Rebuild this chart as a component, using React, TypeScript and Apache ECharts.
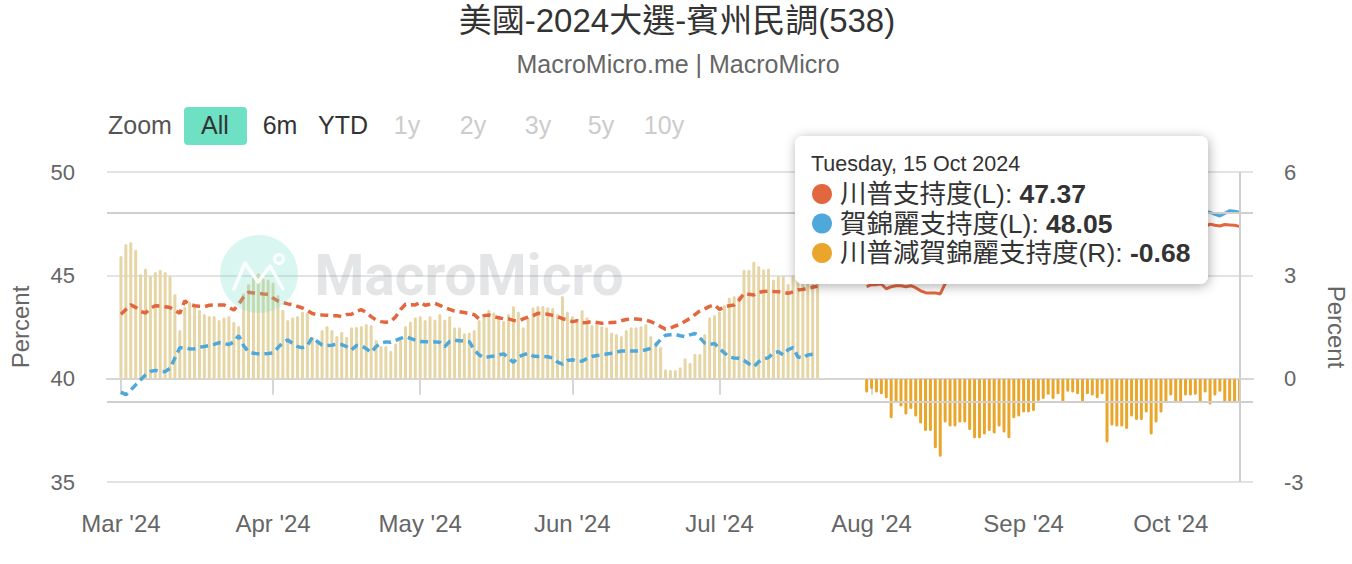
import React, { useEffect, useRef } from "react";
import * as echarts from "echarts";

const FONT = "'Liberation Sans', 'Noto Sans CJK TC', sans-serif";
const TITLE = "美國-2024大選-賓州民調(538)";
const SUBTITLE = "MacroMicro.me | MacroMicro";
const SERIES_NAMES = ["川普支持度(L)", "賀錦麗支持度(L)", "川普減賀錦麗支持度(R)"];
const TOOLTIP_DATE = "Tuesday, 15 Oct 2024";
const AXIS_NAME = "Percent";
const MONTHS = ["Jan", "Feb", "Mar", "Apr", "May", "Jun", "Jul", "Aug", "Sep", "Oct", "Nov", "Dec"];
const RANGE_LABEL = "Zoom";
const RANGE_BUTTONS = ["All", "6m", "YTD", "1y", "2y", "3y", "5y", "10y"];
const RANGE_ENABLED = [true, true, true, false, false, false, false, false];
const WATERMARK = "MacroMicro";

// Period 1: 1 Mar 2024 – 21 Jul 2024 (daily), Trump vs Biden
const P1_START = [2024, 2, 1];
const trumpP1 = [
  43.12, 43.35, 43.57, 43.45, 43.25, 43.18, 43.40, 43.53, 43.52, 43.48,
  43.44, 43.30, 43.16, 43.76, 43.60, 43.53, 43.50, 43.48, 43.55, 43.57,
  43.57, 43.57, 43.45, 43.32, 43.60, 43.95, 44.18, 44.15, 44.13, 44.10,
  44.08, 43.90, 43.76, 43.68, 43.62, 43.58, 43.50, 43.42, 43.30, 43.15,
  43.10, 43.08, 43.07, 43.05, 43.05, 43.00, 43.10, 43.12, 43.25, 43.34,
  43.20, 43.00, 42.84, 42.76, 42.73, 42.76, 43.00, 43.35, 43.60, 43.58,
  43.57, 43.70, 43.55, 43.60, 43.65, 43.55, 43.44, 43.35, 43.27, 43.24,
  43.20, 43.15, 43.10, 42.89, 43.05, 43.08, 43.00, 42.95, 42.90, 42.89,
  42.82, 42.79, 42.89, 42.98, 43.05, 43.16, 43.14, 43.12, 43.06, 43.00,
  42.90, 42.84, 42.76, 42.80, 42.70, 42.72, 42.76, 42.72, 42.68, 42.70,
  42.72, 42.73, 42.80, 42.86, 42.88, 42.89, 42.86, 42.84, 42.76, 42.65,
  42.52, 42.40, 42.45, 42.55, 42.63, 42.78, 42.92, 43.10, 43.28, 43.38,
  43.50, 43.58, 43.35, 43.48, 43.53, 43.56, 43.80, 44.13, 44.08, 44.05,
  44.18, 44.22, 44.24, 44.22, 44.21, 44.18, 44.13, 44.20, 44.29, 44.32,
  44.38, 44.42, 44.48,
];
const bidenP1 = [
  39.35, 39.22, 39.45, 39.70, 39.95, 40.18, 40.35, 40.40, 40.36, 40.34,
  40.50, 41.00, 41.50, 41.50, 41.44, 41.45, 41.52, 41.56, 41.60, 41.66,
  41.74, 41.70, 41.65, 41.78, 42.08, 41.60, 41.30, 41.23, 41.20, 41.20,
  41.22, 41.25, 41.50, 41.75, 41.87, 41.70, 41.55, 41.50, 41.60, 42.00,
  41.80, 41.63, 41.60, 41.62, 41.68, 41.65, 41.55, 41.39, 41.60, 41.60,
  41.45, 41.27, 41.55, 41.72, 41.78, 41.76, 41.85, 41.95, 42.03, 41.95,
  41.86, 41.80, 41.79, 41.79, 41.78, 41.76, 41.55, 41.80, 41.86, 41.84,
  41.82, 41.79, 41.40, 41.15, 41.02, 41.06, 41.10, 41.15, 41.20, 41.00,
  40.79, 41.05, 41.15, 41.23, 41.10, 41.07, 41.07, 41.06, 41.00, 40.80,
  40.70, 40.88, 40.92, 40.84, 40.85, 40.98, 41.07, 41.12, 41.15, 41.19,
  41.23, 41.28, 41.34, 41.34, 41.34, 41.34, 41.34, 41.40, 41.47, 41.62,
  41.90, 42.10, 42.12, 42.14, 42.08, 42.03, 42.12, 42.19, 41.98, 41.72,
  41.66, 41.70, 41.45, 41.25, 41.05, 41.00, 40.99, 40.88, 40.72, 40.58,
  40.82, 40.95, 41.02, 41.25, 41.30, 41.15, 41.40, 41.50, 41.05, 41.00,
  41.15, 41.18, 41.20,
];
const diffP1 = [
  3.56, 3.91, 3.97, 3.74, 3.04, 3.20, 2.98, 3.10, 3.16, 3.10,
  2.98, 2.46, 1.41, 2.09, 2.23, 2.11, 2.00, 1.88, 1.82, 1.82,
  1.70, 1.78, 1.82, 1.65, 1.53, 2.48, 2.75, 2.94, 3.06, 2.91,
  2.88, 2.79, 2.43, 2.00, 1.70, 1.78, 1.82, 1.95, 1.92, 1.22,
  1.05, 1.41, 1.53, 1.41, 1.24, 1.36, 1.22, 1.49, 1.51, 1.53,
  1.59, 1.56, 1.12, 0.95, 0.95, 0.81, 1.03, 1.12, 1.53, 1.66,
  1.78, 1.82, 1.70, 1.82, 1.72, 1.88, 1.72, 1.82, 1.49, 1.49,
  1.32, 1.34, 1.41, 1.70, 1.88, 2.00, 1.92, 1.78, 1.68, 1.88,
  2.11, 1.95, 1.49, 1.78, 2.07, 2.11, 2.11, 2.07, 2.05, 1.88,
  2.40, 1.95, 1.82, 1.75, 1.99, 1.78, 1.56, 1.59, 1.53, 1.49,
  1.34, 1.30, 1.24, 1.41, 1.49, 1.49, 1.53, 1.59, 1.24, 1.07,
  0.93, 0.27, 0.25, 0.25, 0.33, 0.59, 0.46, 0.72, 0.72, 1.30,
  1.78, 1.85, 1.95, 2.14, 2.36, 2.40, 2.40, 3.16, 3.16, 3.40,
  3.27, 3.18, 3.20, 2.88, 2.98, 2.98, 2.75, 3.00, 3.20, 3.30,
  3.20, 3.20, 3.25,
];

// Period 2: 31 Jul 2024 – 15 Oct 2024 (daily), Trump vs Harris
const P2_START = [2024, 6, 31];
const trumpP2 = [
  44.45, 44.55, 44.55, 44.58, 44.35, 44.45, 44.50, 44.50, 44.45, 44.50,
  44.40, 44.25, 44.16, 44.15, 44.15, 44.10, 44.60, 44.85, 44.92, 45.05,
  45.02, 45.14, 45.10, 45.22, 45.26, 45.31, 45.28, 45.42, 45.38, 45.51,
  45.49, 45.60, 45.63, 45.58, 45.70, 45.74, 45.81, 45.77, 45.90, 45.86,
  45.95, 46.02, 45.98, 46.10, 46.12, 46.20, 46.17, 46.31, 46.28, 46.35,
  46.40, 46.38, 46.47, 46.52, 46.49, 46.60, 46.63, 46.71, 46.68, 46.80,
  46.84, 46.90, 46.88, 46.98, 47.05, 47.02, 47.12, 47.18, 47.25, 47.35,
  47.48, 47.42, 47.39, 47.46, 47.44, 47.42, 47.37,
];
const harrisP2 = [
  44.85, 44.85, 44.95, 45.03, 44.92, 45.60, 45.17, 45.31, 45.49, 45.38,
  45.50, 45.55, 45.68, 45.67, 46.17, 46.37, 45.87, 46.24, 46.31, 46.32,
  46.29, 46.63, 46.83, 46.95, 46.88, 46.83, 46.87, 46.81, 46.94, 47.24,
  46.64, 46.70, 46.61, 46.56, 46.64, 46.39, 46.40, 46.24, 46.49, 46.31,
  46.64, 46.40, 46.38, 46.55, 46.81, 46.65, 46.66, 46.88, 46.73, 48.20,
  47.76, 47.77, 47.86, 47.98, 47.59, 47.80, 47.83, 47.69, 48.30, 48.07,
  47.82, 47.59, 47.37, 47.65, 47.74, 47.51, 47.61, 47.65, 47.94, 48.08,
  48.05, 47.95, 47.87, 48.00, 48.13, 48.10, 48.05,
];
const diffP2 = [
  -0.40, -0.30, -0.40, -0.45, -0.57, -1.15, -0.67, -0.81, -1.04, -0.88,
  -1.10, -1.30, -1.52, -1.52, -2.02, -2.27, -1.27, -1.39, -1.39, -1.27,
  -1.27, -1.49, -1.73, -1.73, -1.62, -1.52, -1.59, -1.39, -1.56, -1.73,
  -1.15, -1.10, -0.98, -0.98, -0.94, -0.65, -0.59, -0.47, -0.59, -0.45,
  -0.69, -0.38, -0.40, -0.45, -0.69, -0.45, -0.49, -0.57, -0.45, -1.85,
  -1.36, -1.39, -1.39, -1.46, -1.10, -1.20, -1.20, -0.98, -1.62, -1.27,
  -0.98, -0.69, -0.49, -0.67, -0.69, -0.49, -0.49, -0.47, -0.69, -0.40,
  -0.75, -0.49, -0.38, -0.69, -0.69, -0.69, -0.68,
];

const LEFT_MIN = 35, LEFT_MAX = 50, LEFT_INTERVAL = 5;
const RIGHT_MIN = -3, RIGHT_MAX = 6, RIGHT_INTERVAL = 3;

const C_TRUMP = "#E2673F";
const C_HARRIS = "#4EA8DA";
const C_DIFF = "#EAA62A";
const C_DIFF_OLD = "#E6D6A6";
const GRID_C = "#e3e3e3";
const DAY = 86400000;

function dailyDates(start: number[], n: number) {
  return Array.from({ length: n }, (_, i) => new Date(start[0], start[1], start[2] + i).getTime());
}

export default function App() {
  const ref = useRef<HTMLDivElement>(null);
  useEffect(() => {
    const chart = echarts.init(ref.current!, null, { renderer: "svg" });
    const d1 = dailyDates(P1_START, trumpP1.length);
    const d2 = dailyDates(P2_START, trumpP2.length);
    const lastDate = d2[d2.length - 1];
    const xMin = d1[0] - 2.54 * DAY;
    const xMax = lastDate + 2.45 * DAY;
    const pair = (dates: number[], vals: number[]) => dates.map((t, i) => [t, vals[i]]);
    const barData = [
      ...d1.map((t, i) => ({ value: [t, diffP1[i]], itemStyle: { color: C_DIFF_OLD } })),
      ...d2.map((t, i) => ({ value: [t, diffP2[i]], itemStyle: { color: C_DIFF } })),
    ];
    const lastT = trumpP2[trumpP2.length - 1];
    const lastH = harrisP2[harrisP2.length - 1];
    const lastD = diffP2[diffP2.length - 1];
    const crossStyle = { color: "#cfcfcf", width: 2, type: "solid" as const };
    const dash = [8, 5];

    const buttonX = [215, 280, 343, 407, 473, 538, 601, 664];
    const graphic: any[] = [
      { type: "text", x: 677, y: 20, style: { text: TITLE, fontSize: 33, fontFamily: FONT, fill: "#333", align: "center", verticalAlign: "middle" } },
      { type: "text", x: 678, y: 64, style: { text: SUBTITLE, fontSize: 25, fontFamily: FONT, fill: "#666", align: "center", verticalAlign: "middle" } },
      { type: "text", x: 108, y: 125, style: { text: RANGE_LABEL, fontSize: 25, fontFamily: FONT, fill: "#555", align: "left", verticalAlign: "middle" } },
      { type: "rect", shape: { x: 184, y: 107, width: 63, height: 38, r: 4 }, style: { fill: "#6EE0C4" } },
      ...RANGE_BUTTONS.map((b, i) => ({
        type: "text", x: buttonX[i], y: 125,
        style: { text: b, fontSize: 25, fontFamily: FONT, fill: RANGE_ENABLED[i] ? "#333" : "#ccc", align: "center", verticalAlign: "middle" },
      })),
      // watermark overlay
      { type: "circle", z: 100, silent: true, shape: { cx: 259, cy: 274, r: 39 }, style: { fill: "rgba(110,224,196,0.26)" } },
      { type: "polyline", z: 101, silent: true, shape: { points: [[234, 289], [245, 263], [258, 282], [270, 266], [283, 289]] }, style: { stroke: "rgba(255,255,255,0.9)", lineWidth: 3.5, fill: "none", lineJoin: "round", lineCap: "round" } },
      { type: "circle", z: 101, silent: true, shape: { cx: 279, cy: 259, r: 4.5 }, style: { stroke: "rgba(255,255,255,0.9)", lineWidth: 3, fill: "none" } },
      { type: "text", z: 100, silent: true, x: 469, y: 275, style: { text: WATERMARK, fontSize: 57, fontWeight: "bold", fontFamily: "Roboto, 'Liberation Sans', sans-serif", fill: "rgba(120,125,132,0.2)", align: "center", verticalAlign: "middle" } },
      // static tooltip
      { type: "rect", z: 200, shape: { x: 795, y: 136, width: 413, height: 148, r: 8 }, style: { fill: "#fff", shadowBlur: 12, shadowColor: "rgba(0,0,0,0.32)", shadowOffsetX: 1, shadowOffsetY: 2 } },
      { type: "text", z: 201, x: 811, y: 164, style: { text: TOOLTIP_DATE, fontSize: 21.5, fontFamily: FONT, fill: "#333", align: "left", verticalAlign: "middle" } },
      ...[
        [C_TRUMP, SERIES_NAMES[0], lastT],
        [C_HARRIS, SERIES_NAMES[1], lastH],
        [C_DIFF, SERIES_NAMES[2], lastD],
      ].flatMap((row: any, i) => [
        { type: "circle", z: 201, shape: { cx: 822, cy: 194 + i * 29.5, r: 10 }, style: { fill: row[0] } },
        {
          type: "text", z: 201, x: 840, y: 194 + i * 29.5,
          style: {
            text: `{n|${row[1]}: }{b|${Number(row[2]).toFixed(2)}}`,
            verticalAlign: "middle", align: "left",
            rich: {
              n: { fontSize: 26.5, fontFamily: FONT, fill: "#333", color: "#333" },
              b: { fontSize: 26.5, fontFamily: FONT, fontWeight: "bold", fill: "#333", color: "#333" },
            },
          },
        },
      ]),
    ];

    const option: any = {
      animation: false,
      grid: { left: 107, right: 99, top: 172, bottom: 82, outerBoundsMode: "none", containLabel: false },
      xAxis: {
        type: "time", min: xMin, max: xMax, splitNumber: 8, minInterval: 28 * DAY, maxInterval: 31 * DAY,
        axisLine: { show: true, lineStyle: { color: "#d6d6d6", width: 2 } },
        axisTick: { show: true, length: 16, lineStyle: { color: "#d6d6d6", width: 2 } },
        axisLabel: {
          fontSize: 24, color: "#666", fontFamily: FONT, margin: 29,
          formatter: (v: number) => { const d = new Date(v); return `${MONTHS[d.getMonth()]} '${String(d.getFullYear()).slice(2)}`; },
        },
        splitLine: { show: false },
      },
      yAxis: [
        {
          type: "value", min: LEFT_MIN, max: LEFT_MAX, interval: LEFT_INTERVAL, position: "left",
          name: AXIS_NAME, nameLocation: "middle", nameRotate: 90, nameGap: 75,
          nameTextStyle: { fontSize: 24, color: "#666", fontFamily: FONT },
          axisLabel: { fontSize: 22, color: "#666", fontFamily: FONT, margin: 32 },
          axisLine: { show: false }, axisTick: { show: false },
          splitLine: { show: true, lineStyle: { color: GRID_C, width: 2 } },
        },
        {
          type: "value", min: RIGHT_MIN, max: RIGHT_MAX, interval: RIGHT_INTERVAL, position: "right",
          name: AXIS_NAME, nameLocation: "middle", nameRotate: -90, nameGap: 72,
          nameTextStyle: { fontSize: 24, color: "#666", fontFamily: FONT },
          axisLabel: { fontSize: 22, color: "#666", fontFamily: FONT, margin: 31, align: "left" },
          axisLine: { show: false }, axisTick: { show: false },
          splitLine: { show: false },
        },
      ],
      series: [
        {
          name: SERIES_NAMES[2], type: "bar", yAxisIndex: 1, data: barData, barWidth: 3,
          itemStyle: { borderRadius: 1.5 }, z: 1,
          markLine: {
            silent: true, symbol: "none", label: { show: false }, lineStyle: crossStyle,
            data: [{ yAxis: lastD }, { xAxis: lastDate }],
          },
        },
        {
          name: SERIES_NAMES[0], type: "line", yAxisIndex: 0, data: pair(d1, trumpP1), showSymbol: false, symbol: "none",
          lineStyle: { color: C_TRUMP, width: 3.5, type: dash }, itemStyle: { color: C_TRUMP }, z: 3,
        },
        {
          name: SERIES_NAMES[1], type: "line", yAxisIndex: 0, data: pair(d1, bidenP1), showSymbol: false, symbol: "none",
          lineStyle: { color: C_HARRIS, width: 3.5, type: dash }, itemStyle: { color: C_HARRIS }, z: 3,
        },
        {
          name: SERIES_NAMES[0] + " ", type: "line", yAxisIndex: 0, data: pair(d2, trumpP2), showSymbol: false, symbol: "none",
          lineStyle: { color: C_TRUMP, width: 3 }, itemStyle: { color: C_TRUMP }, z: 3,
        },
        {
          name: SERIES_NAMES[1] + " ", type: "line", yAxisIndex: 0, data: pair(d2, harrisP2), showSymbol: false, symbol: "none",
          lineStyle: { color: C_HARRIS, width: 3 }, itemStyle: { color: C_HARRIS }, z: 3,
          markLine: {
            silent: true, symbol: "none", label: { show: false }, lineStyle: crossStyle,
            data: [{ yAxis: lastH }],
          },
        },
      ],
      graphic,
    };
    chart.setOption(option);
    return () => chart.dispose();
  }, []);
  return <div ref={ref} style={{ position: "absolute", left: 0, top: 0, width: 1352, height: 564, background: "#fff" }} />;
}
